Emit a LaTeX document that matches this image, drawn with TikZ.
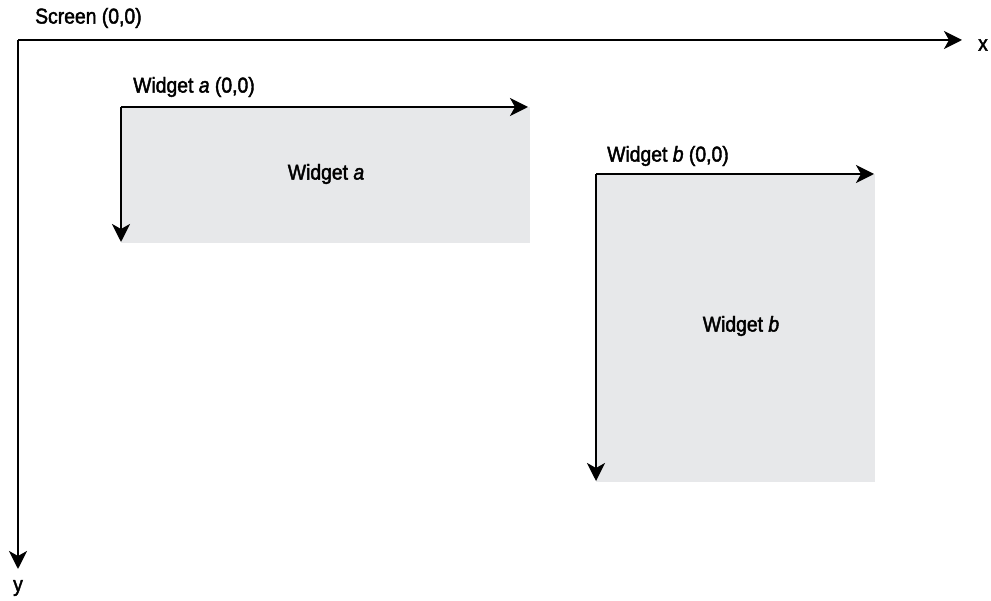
\documentclass[tikz,border=0pt]{standalone}
\usepackage{fontspec}
\setmainfont{Liberation Sans}[FakeStretch=0.9,FakeBold=2]
\usetikzlibrary{arrows.meta}
\definecolor{wgray}{HTML}{E7E8EA}
\tikzset{
  axis/.style={line width=2.2pt,-{Stealth[length=18pt,width=18pt,inset=5pt]}},
  lbl/.style={font=\fontsize{21.5pt}{25pt}\selectfont,inner sep=0pt},
  wbox/.style={fill=wgray,draw=none}
}
\begin{document}
\begin{tikzpicture}[x=1pt,y=-1pt]
\useasboundingbox (0,0) rectangle (991,601);
% widget boxes
\fill[wgray] (121,107) rectangle (530,243);
\fill[wgray] (596,174) rectangle (875,482);
% screen axes
\coordinate (so) at (18,40);
\coordinate (sx) at (962,40);
\coordinate (sy) at (18,569);
\draw[axis] (so) -- (sx);
\draw[axis] (so) -- (sy);
\node[lbl,anchor=west] (st) at (35,18) {Screen (0,0)};
\node[lbl] (xl) at (983,45) {x};
\node[lbl] (yl) at (18,588) {y};
% widget a
\coordinate (ao) at (121,107);
\coordinate (ax) at (528,107);
\coordinate (ay) at (121,242);
\draw[axis] (ao) -- (ax);
\draw[axis] (ao) -- (ay);
\node[lbl,anchor=west] (at) at (133,87) {Widget \textit{a} (0,0)};
\node[lbl] (an) at (326,174) {Widget \textit{a}};
% widget b
\coordinate (bo) at (596,174);
\coordinate (bx) at (874,174);
\coordinate (by) at (596,481);
\draw[axis] (bo) -- (bx);
\draw[axis] (bo) -- (by);
\node[lbl,anchor=west] (bt) at (607,156) {Widget \textit{b} (0,0)};
\node[lbl] (bn) at (741,326) {Widget \textit{b}};
\end{tikzpicture}
\end{document}
